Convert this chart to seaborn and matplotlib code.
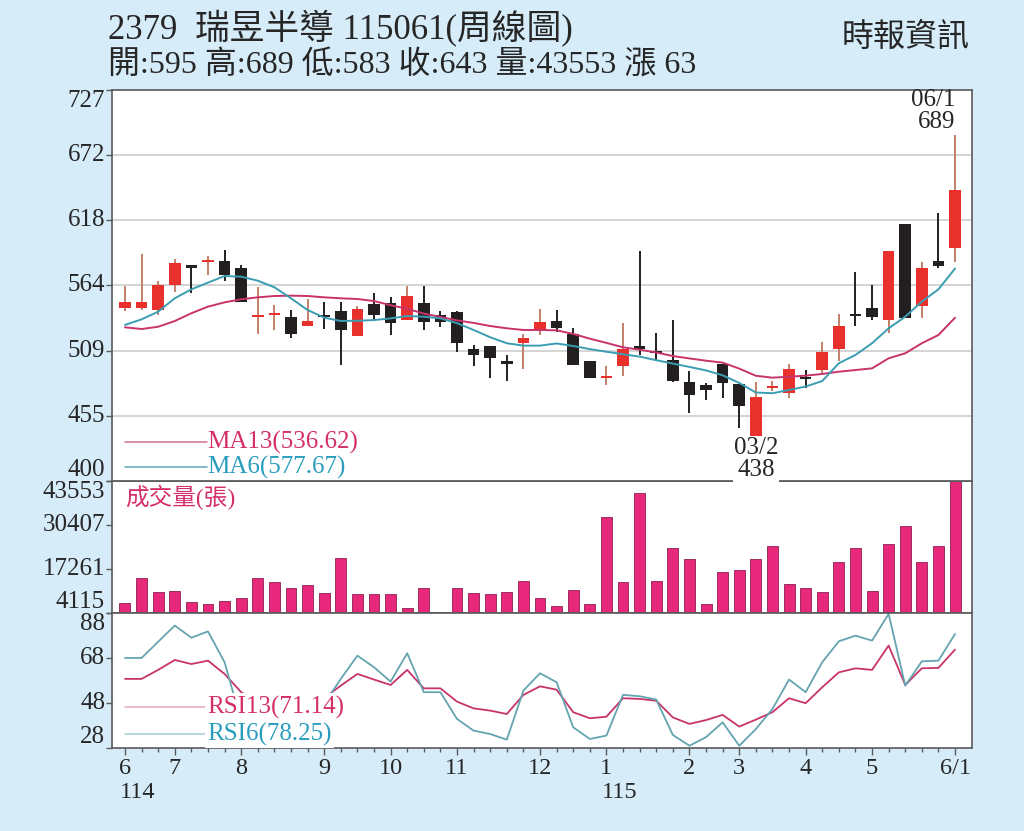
import matplotlib
matplotlib.use("Agg")
import matplotlib.pyplot as plt
import matplotlib.transforms as mtransforms
import seaborn as sns
import numpy as np
import pandas as pd

# weekly bars, 114/6 .. 115/6/1
weeks = list(range(51))
opens = [545, 545, 543, 564, 581, 583, 584, 578, 537, 539,
         537, 530, 538, 542, 521, 548, 549, 535, 549, 539,
         541, 510, 513, 500, 515, 526, 534, 523, 500, 486,
         496, 513, 509, 501, 483, 480, 498, 481, 438, 478,
         474, 487, 493, 510, 539, 545, 535, 615, 546, 584, 595]
highs = [563, 590, 567, 586, 581, 588, 593, 581, 562, 547,
         543, 552, 550, 550, 546, 557, 554, 563, 563, 542,
         542, 514, 513, 505, 523, 544, 543, 528, 500, 496,
         532, 592, 524, 535, 492, 482, 498, 481, 483, 484,
         498, 493, 516, 540, 575, 564, 592, 615, 583, 624, 689]
lows = [542, 543, 539, 558, 557, 572, 567, 550, 523, 526,
        520, 530, 527, 497, 521, 534, 522, 535, 526, 529,
        508, 496, 486, 484, 494, 522, 525, 497, 486, 480,
        488, 505, 500, 483, 457, 468, 469, 444, 438, 475,
        469, 478, 490, 500, 530, 535, 524, 536, 536, 578, 583]
closes = [550, 550, 564, 582, 578, 585, 572, 550, 539, 540,
          523, 534, 538, 526, 544, 539, 532, 555, 533, 533,
          515, 505, 503, 498, 520, 533, 528, 497, 486, 488,
          510, 510, 507, 484, 472, 476, 482, 463, 470, 479,
          494, 486, 508, 530, 538, 537, 592, 536, 578, 580, 643]
volume = [7190, 14480, 10480, 10690, 7400, 6720, 7610, 8510, 14480, 13290,
          11680, 12480, 10000, 20550, 9790, 9700, 9700, 5520, 11500, 4480,
          11680, 10180, 9700, 10480, 13680, 8510, 6300, 10900, 6720, 32890,
          13470, 39970, 13680, 23450, 20250, 6720, 16460, 16870, 20250, 24220,
          12870, 11500, 10480, 19260, 23630, 10690, 24820, 30200, 19260, 24220, 43553]
ma13 = [528.5, 527.1, 529.0, 533.8, 540.3, 545.8, 549.4, 552.0, 553.6, 554.7,
        555.0, 554.7, 553.6, 552.8, 552.2, 550.5, 547.0, 544.0, 540.0, 537.2,
        534.3, 532.2, 529.6, 527.7, 526.3, 526.3, 526.0, 523.0, 519.0, 515.5,
        511.8, 509.8, 507.5, 504.5, 502.5, 500.6, 499.0, 494.0, 488.0, 486.4,
        487.2, 488.1, 489.5, 491.4, 492.8, 494.2, 502.6, 506.8, 515.2, 522.1, 536.6]
ma6 = [530.5, 535.2, 541.6, 552.8, 560.3, 565.9, 571.4, 570.9, 567.5, 562.0,
       552.8, 543.0, 536.6, 533.8, 534.0, 534.6, 536.0, 538.0, 537.4, 536.0,
       532.0, 526.3, 520.2, 515.2, 513.2, 513.2, 515.0, 512.9, 510.3, 508.1,
       506.0, 504.0, 501.0, 498.2, 495.4, 492.5, 488.4, 482.0, 474.0, 473.4,
       476.1, 479.0, 483.6, 498.5, 505.4, 515.2, 527.7, 537.4, 550.0, 560.3, 577.7]
rsi13 = [58.7, 58.7, 62.7, 67.1, 65.3, 66.8, 60.9, 52.8, 48.0, 48.5,
         43.0, 46.5, 50.2, 55.7, 60.9, 58.4, 56.0, 62.7, 54.5, 54.5,
         48.6, 45.6, 44.6, 43.1, 51.6, 55.4, 53.9, 43.9, 41.2, 41.9,
         50.1, 49.8, 49.0, 41.6, 38.7, 40.4, 42.7, 37.5, 40.6, 43.9,
         50.1, 47.9, 55.0, 61.6, 63.4, 62.7, 73.5, 56.0, 63.4, 63.6, 71.7]
rsi6 = [68.0, 68.0, 75.2, 82.4, 77.0, 79.8, 66.1, 40.0, 38.0, 39.0,
        31.0, 38.0, 47.7, 58.7, 69.0, 63.9, 57.5, 70.1, 52.8, 52.8,
        40.9, 35.7, 34.2, 31.7, 53.5, 61.2, 57.2, 37.2, 32.0, 33.5,
        51.6, 51.0, 49.5, 33.8, 29.0, 32.8, 39.4, 29.0, 36.4, 45.3,
        58.4, 52.8, 66.1, 75.4, 77.9, 75.7, 87.6, 55.7, 66.5, 66.8, 78.7]

month_pos = [0, 3, 7, 12, 16, 20, 25, 29, 34, 37, 41, 45, 50]
month_labels = ['6', '7', '8', '9', '10', '11', '12', '1', '2', '3', '4', '5', '6/1']
year_marks = [(0, '114'), (29, '115')]

price_ticks = [400, 454.5, 509, 563.5, 618, 672.5, 727]
price_labels = ['400', '455', '509', '564', '618', '672', '727']
vol_ticks = [4115, 17261, 30407, 43553]
rsi_ticks = [28, 48, 68, 88]

BG = '#d6ecf9'
RED = '#e8302c'
RED_WICK = '#c4806a'
BLACK = '#231f20'
C13 = '#c8336c'
C6 = '#3a9db2'
T13 = '#d42f6b'
T6 = '#2a9dbd'
VOL = '#e8287a'
SPINE = '#5a5a5a'

sns.set_style("white")
plt.rcParams['font.family'] = ['Liberation Serif', 'Noto Sans CJK TC', 'DejaVu Sans']

fig = plt.figure(figsize=(10.24, 8.31), dpi=100, facecolor=BG)
L, W = 0.1094, 0.8398
ax_p = fig.add_axes([L, 0.4212, W, 0.4705])
ax_v = fig.add_axes([L, 0.2623, W, 0.1589])
ax_r = fig.add_axes([L, 0.0999, W, 0.1625])
ax_p.set_zorder(3)
XLIM = (-0.78, 51.02)

# ---- price panel
df = pd.DataFrame(dict(week=weeks, open=opens, high=highs, low=lows, close=closes))
up = (df.close > df.open).to_numpy()
diff = (df.close - df.open).abs()
height = diff.clip(lower=1.6)
bottom = df[['open', 'close']].min(axis=1) - (height - diff) / 2
ax_p.vlines(df.week, df.low, df.high, colors=np.where(up, RED_WICK, BLACK), lw=1.4, zorder=3)
ax_p.bar(df.week, height, bottom=bottom, width=0.7,
         color=np.where(up, RED, BLACK), linewidth=0, zorder=4)

sns.lineplot(x=weeks, y=ma13, ax=ax_p, color=C13, lw=1.4, zorder=5)
sns.lineplot(x=weeks, y=ma6, ax=ax_p, color=C6, lw=1.4, zorder=5)

ax_p.set_ylim(400, 727)
ax_p.set_yticks(price_ticks)
ax_p.set_yticklabels(price_labels)
ax_p.grid(axis='y', color='#cdcdcd', lw=1.2)
ax_p.grid(axis='x', visible=False)

# MA legend
ax_p.plot([0.0151, 0.1105], [0.0997, 0.0997], transform=ax_p.transAxes, color='#d0708f', lw=1.1)
ax_p.plot([0.0151, 0.1105], [0.0358, 0.0358], transform=ax_p.transAxes, color='#5fa9b8', lw=1.1)
ax_p.text(0.1105, 0.0997, 'MA13(536.62)', transform=ax_p.transAxes, color=T13,
          fontsize=18, va='center', ha='left')
ax_p.text(0.1105, 0.0358, 'MA6(577.67)', transform=ax_p.transAxes, color=T6,
          fontsize=18, va='center', ha='left')

# high / low marks
ax_p.annotate('06/1\n689', xy=(50, 689), xytext=(0, 2), textcoords='offset points',
              ha='right', va='bottom', multialignment='right', fontsize=18, linespacing=1.0)
ax_p.annotate('03/2\n438', xy=(38, 438), xytext=(0, -1), textcoords='offset points',
              ha='center', va='top', fontsize=18, linespacing=1.0,
              bbox=dict(facecolor='white', edgecolor='none', pad=0.5))

# ---- volume panel
sns.barplot(x=weeks, y=volume, ax=ax_v, native_scale=True, width=0.66, color=VOL,
            saturation=1, edgecolor='#8a2050', linewidth=0.6, errorbar=None)
ax_v.set_ylim(4115, 43553)
ax_v.set_yticks(vol_ticks)
ax_v.set_yticklabels([str(v) for v in vol_ticks])
ax_v.text(0.0151, 0.879, '成交量(張)', transform=ax_v.transAxes, color=T13,
          fontsize=17, va='center', ha='left')

# ---- RSI panel
sns.lineplot(x=weeks, y=rsi13, ax=ax_r, color=C13, lw=1.3, zorder=2)
sns.lineplot(x=weeks, y=rsi6, ax=ax_r, color='#64a4b0', lw=1.3, zorder=2)
ax_r.set_ylim(28, 88)
ax_r.set_yticks(rsi_ticks)
ax_r.set_yticklabels([str(v) for v in rsi_ticks])
ax_r.plot([0.0151, 0.1105], [0.3037, 0.3037], transform=ax_r.transAxes, color='#e2a9bd', lw=1.1)
ax_r.plot([0.0151, 0.1105], [0.1037, 0.1037], transform=ax_r.transAxes, color='#a9cdd3', lw=1.1)
ax_r.text(0.1105, 0.3037, 'RSI13(71.14)', transform=ax_r.transAxes, color=T13, fontsize=18,
          va='center', ha='left', zorder=6,
          bbox=dict(facecolor='white', edgecolor='none', pad=1.5))
ax_r.text(0.1105, 0.1037, 'RSI6(78.25)', transform=ax_r.transAxes, color=T6, fontsize=18,
          va='center', ha='left', zorder=6,
          bbox=dict(facecolor='white', edgecolor='none', pad=1.5))

ax_r.set_xticks(month_pos)
ax_r.set_xticklabels(month_labels)
ax_r.set_xticks(weeks, minor=True)
trans = mtransforms.blended_transform_factory(ax_r.transData, ax_r.transAxes)
for pos, yr in year_marks:
    ax_r.text(pos - 0.3, -0.333, yr, transform=trans, fontsize=17.5, ha='left', va='center')

# ---- shared styling
for ax, vas in [(ax_p, ['bottom'] + ['center'] * 5 + ['top']),
                (ax_v, ['bottom', 'center', 'center', 'top']),
                (ax_r, ['bottom', 'center', 'center', 'top'])]:
    ax.set_xlim(*XLIM)
    ax.set_facecolor('white')
    ax.set_xlabel('')
    ax.set_ylabel('')
    for s in ax.spines.values():
        s.set_visible(True)
        s.set_color(SPINE)
        s.set_linewidth(1.2)
    ax.tick_params(axis='y', direction='out', length=4, width=1, color=SPINE,
                   labelsize=18, pad=1, left=True)
    for lab, va in zip(ax.get_yticklabels(), vas):
        lab.set_va(va)
    if ax is not ax_r:
        ax.tick_params(axis='x', which='both', bottom=False, labelbottom=False)

ax_r.tick_params(axis='x', which='major', direction='out', length=5, width=1, color=SPINE,
                 labelsize=17.5, pad=2, bottom=True)
ax_r.tick_params(axis='x', which='minor', direction='out', length=3, width=1, color=SPINE,
                 bottom=True)

# ---- header
fig.text(0.1055, 0.9663, '2379  瑞昱半導 115061(周線圖)', fontsize=25, va='center', ha='left')
fig.text(0.1055, 0.9206, '開:595 高:689 低:583 收:643 量:43553 漲 63', fontsize=23,
         va='center', ha='left')
fig.text(0.947, 0.9543, '時報資訊', fontsize=23, va='center', ha='right')

fig.savefig('out.png', dpi=100, facecolor=BG)
